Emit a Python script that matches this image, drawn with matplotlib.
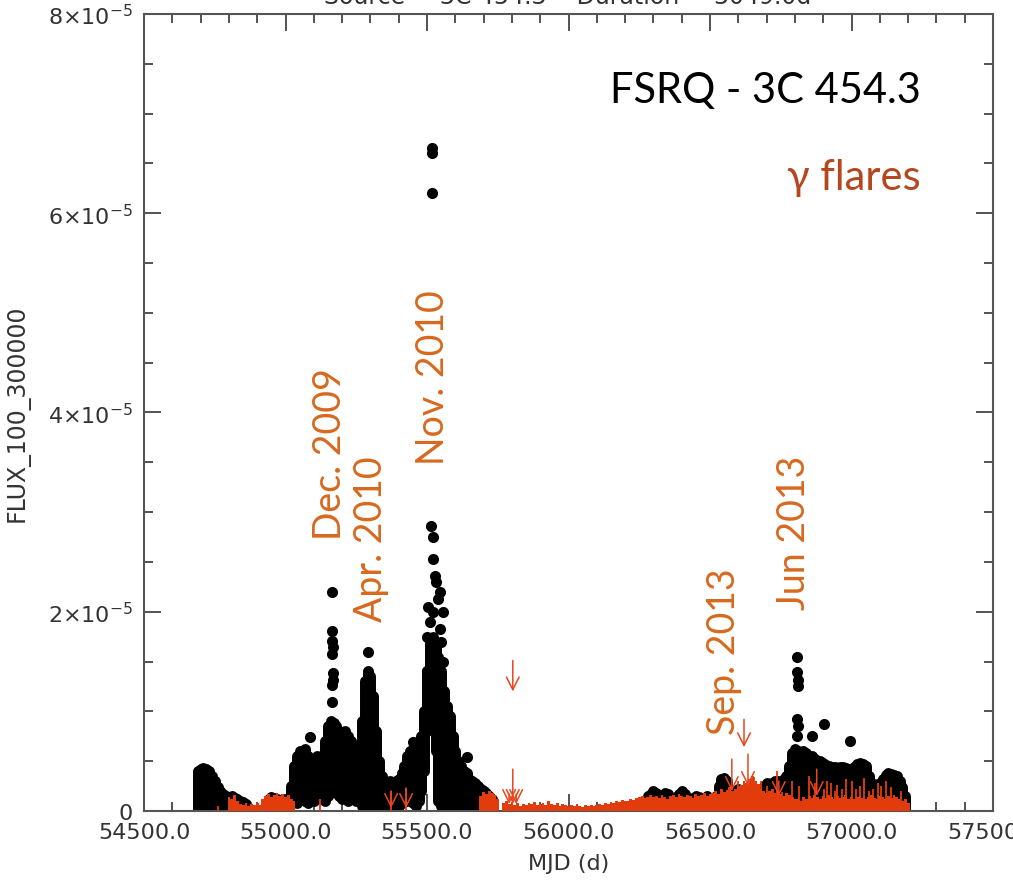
import numpy as np
import matplotlib
matplotlib.use('Agg')
import matplotlib.pyplot as plt
from matplotlib.ticker import MultipleLocator, FuncFormatter

# ---- data (flux in units of 1e-5 ph cm^-2 s^-1) ----
# black light curve envelope, 10 day bins
s1_mjd = np.arange(54690, 54870, 10)
s1_hi = [0.40, 0.42, 0.43, 0.42, 0.40, 0.35, 0.30, 0.24, 0.20, 0.17,
         0.15, 0.14, 0.15, 0.13, 0.12, 0.10, 0.09, 0.07]

s2_mjd = np.arange(54940, 55740, 10)
s2_hi = [0.12, 0.14, 0.13, 0.12, 0.11, 0.12, 0.11, 0.12,
         0.25, 0.45, 0.55, 0.60, 0.58, 0.62, 0.55, 0.50,
         0.52, 0.55, 0.50, 0.55, 0.70, 0.85, 0.90, 0.88,
         0.85, 0.80, 0.78, 0.80, 0.75, 0.70, 0.65, 0.55,
         0.55, 0.90, 1.30, 1.40, 1.35, 1.15, 0.80, 0.50,
         0.35, 0.30, 0.28, 0.30, 0.28, 0.30, 0.32, 0.38,
         0.45, 0.55, 0.60, 0.62, 0.65, 0.70, 0.75, 1.00,
         1.40, 1.70, 1.75, 1.70, 1.55, 1.40, 1.20, 1.05,
         0.95, 0.75, 0.60, 0.50, 0.45, 0.40, 0.38, 0.32,
         0.30, 0.28, 0.25, 0.22, 0.20, 0.18, 0.15, 0.12]
s2_lo = [0.05, 0.06, 0.05, 0.04, 0.05, 0.06, 0.05, 0.05,
         0.15, 0.10, 0.08, 0.12, 0.15, 0.10, 0.08, 0.12, 0.10, 0.15, 0.18, 0.12, 0.10, 0.15,
         0.20, 0.25, 0.18, 0.15, 0.12, 0.15, 0.10, 0.12, 0.15, 0.10, 0.12,
         0.05, 0.04, 0.05, 0.03, 0.05, 0.04, 0.05,
         0.05, 0.02, 0.00, 0.02, 0.05, 0.08, 0.05,
         0.08, 0.12, 0.10, 0.15, 0.08, 0.05, 0.10, 0.20, 0.40,
         0.80, 0.85, 0.85, 0.60,
         0.10, 0.05, 0.08, 0.04, 0.06, 0.03, 0.05, 0.08, 0.04, 0.05,
         0.03, 0.05, 0.02, 0.04, 0.03, 0.05, 0.02, 0.03, 0.04, 0.02]

s3_mjd = np.arange(56280, 57200, 10)
s3_hi = [0.15, 0.17, 0.20, 0.18, 0.14, 0.15, 0.18, 0.17, 0.13, 0.12,
         0.14, 0.17, 0.20, 0.17, 0.12, 0.10, 0.13, 0.15, 0.14, 0.12,
         0.13, 0.15, 0.13, 0.12, 0.15, 0.25, 0.32, 0.33, 0.30, 0.20,
         0.18, 0.20, 0.22, 0.20, 0.18, 0.20, 0.25, 0.22, 0.18, 0.20,
         0.22, 0.25, 0.28, 0.26, 0.28, 0.30, 0.30, 0.28, 0.32, 0.35,
         0.45, 0.58, 0.62, 0.60, 0.58, 0.60, 0.58, 0.55, 0.55, 0.52,
         0.50, 0.50, 0.48, 0.46, 0.45, 0.44, 0.44, 0.43, 0.44, 0.44,
         0.43, 0.42, 0.42, 0.44, 0.47, 0.48, 0.47, 0.45, 0.35, 0.27,
         0.27, 0.26, 0.28, 0.32, 0.36, 0.38, 0.37, 0.36, 0.35, 0.30,
         0.24, 0.15]

# single bright points standing out of the envelope
pk_mjd = [55088, 55165, 55163, 55165, 55166, 55164, 55167, 55166, 55165, 55163,
          55292, 55451, 55493, 55641,
          55517, 55517, 55518, 55515, 55521, 55521, 55527, 55533, 55539, 55521,
          55545, 55533, 55557, 55499, 55533, 55505, 55545, 55510, 55550, 55500, 55555,
          56807, 56808, 56810, 56810, 56807, 56810, 56807, 56859, 56901, 56995]
pk_flux = [0.74, 2.20, 1.81, 1.71, 1.65, 1.58, 1.38, 1.31, 1.26, 1.09,
           1.60, 0.69, 0.84, 0.54,
           6.65, 6.60, 6.20, 2.86, 2.75, 2.53, 2.36, 2.30, 2.13, 2.00,
           1.83, 1.63, 1.50, 1.40, 1.22, 2.05, 2.20, 1.90, 1.70, 1.75, 2.00,
           1.55, 1.39, 1.31, 1.25, 0.92, 0.85, 0.75, 0.75, 0.87, 0.70]

# red histogram, 10 day bins
r1_mjd = np.arange(54800, 55040, 10)
r1_val = [0.14, 0.12, 0.16, 0.10, 0.07, 0.06, 0.08, 0.05, 0.07, 0.06, 0.08, 0.06,
          0.12, 0.15, 0.17, 0.14, 0.16, 0.18, 0.15, 0.17, 0.14, 0.16, 0.12, 0.10]
r2_mjd = np.arange(55690, 55760, 10)
r2_val = [0.15, 0.19, 0.17, 0.20, 0.18, 0.16, 0.12]
r3_mjd = np.arange(55770, 57210, 10)
r3_val = [0.08, 0.10, 0.07, 0.09,
          0.06, 0.08, 0.05, 0.07, 0.06, 0.08, 0.07, 0.09, 0.06, 0.07,
          0.08, 0.06, 0.10, 0.07, 0.06, 0.08, 0.05, 0.07, 0.06, 0.05,
          0.06, 0.05, 0.07, 0.05, 0.04, 0.06, 0.05, 0.06, 0.05, 0.06,
          0.07, 0.06, 0.08, 0.07, 0.09, 0.08, 0.10, 0.09, 0.11, 0.10,
          0.10, 0.12, 0.11, 0.13, 0.14, 0.15, 0.13, 0.14, 0.16, 0.14,
          0.15, 0.13, 0.16, 0.14, 0.12, 0.15, 0.16, 0.14, 0.17, 0.15,
          0.14, 0.16, 0.15, 0.13, 0.17, 0.15, 0.16, 0.18, 0.15, 0.17,
          0.18, 0.20, 0.17, 0.22, 0.19, 0.21, 0.24, 0.20, 0.22, 0.25,
          0.26, 0.30, 0.28, 0.32, 0.35, 0.30, 0.27, 0.22, 0.20, 0.18,
          0.20, 0.22, 0.18, 0.20, 0.17, 0.15, 0.18, 0.16, 0.14, 0.12,
          0.12, 0.10, 0.14, 0.12, 0.15, 0.13, 0.16, 0.14, 0.12, 0.15,
          0.13, 0.16, 0.14, 0.12, 0.15, 0.13, 0.14, 0.16, 0.12, 0.14,
          0.12, 0.14, 0.15, 0.13, 0.12, 0.14, 0.16, 0.13, 0.12, 0.15,
          0.14, 0.12, 0.15, 0.13, 0.16, 0.14, 0.12, 0.10, 0.12, 0.08]
# thin red spikes
sp_mjd = [54761, 55120, 55373, 55426, 56600, 56655, 56680, 56700, 56736, 56753,
          56790, 56815, 56838, 56850, 56870, 56901, 56915, 56929, 56943, 56950,
          56965, 56982, 57000, 57017, 57030, 57045, 57060, 57075, 57095, 57105,
          57120, 57140, 57155, 57175]
sp_val = [0.05, 0.12, 0.20, 0.23, 0.30, 0.34, 0.30, 0.25, 0.40, 0.19,
          0.30, 0.25, 0.12, 0.35, 0.28, 0.22, 0.30, 0.28, 0.20, 0.26,
          0.22, 0.32, 0.30, 0.22, 0.25, 0.33, 0.20, 0.22, 0.28, 0.25,
          0.30, 0.24, 0.12, 0.20]

# upper limit arrows: mjd, top, tip
ul_mjd = [55803, 55803, 55790, 55815, 56620, 56577, 56634, 56877, 56743, 55373, 55426]
ul_top = [1.51, 0.42, 0.17, 0.17, 0.92, 0.52, 0.57, 0.42, 0.30, 0.20, 0.23]
ul_tip = [1.20, 0.07, 0.07, 0.07, 0.64, 0.20, 0.25, 0.15, 0.15, 0.03, 0.03]

# flare labels
fl_text = ['Dec. 2009', 'Apr. 2010', 'Nov. 2010', 'Sep. 2013', 'Jun 2013']
fl_mjd = [55158, 55303, 55521, 56549, 56796]
fl_y = [2.73, 1.91, 3.48, 0.77, 2.03]

RED = '#e23c0c'
ORANGE = '#d7691e'
S = 1e-5

fig = plt.figure(figsize=(10.13, 8.87), dpi=100)
ax = fig.add_axes([0.1422, 0.0846, 0.8381, 0.8986])

# black light curve: round-capped thick lines look like stacked dots
ax.vlines(s1_mjd, 0, np.array(s1_hi) * S, colors='k', linewidth=7.9, capstyle='round', zorder=2)
ax.vlines(s2_mjd, np.array(s2_lo) * S, np.array(s2_hi) * S, colors='k', linewidth=7.9,
          capstyle='round', zorder=2)
ax.vlines(s3_mjd, 0, np.array(s3_hi) * S, colors='k', linewidth=7.9, capstyle='round', zorder=2)
ax.plot(pk_mjd, np.array(pk_flux) * S, 'o', color='k', ms=8, mew=0, zorder=2)

# red histogram on top
for m, v in [(r1_mjd, r1_val), (r2_mjd, r2_val), (r3_mjd, r3_val)]:
    ax.bar(m, np.array(v) * S, width=10, color=RED, linewidth=0, zorder=3)
ax.vlines(sp_mjd, 0, np.array(sp_val) * S, colors=RED, linewidth=1.3, zorder=3)

for m, t, b in zip(ul_mjd, ul_top, ul_tip):
    ax.annotate('', xy=(m, b * S), xytext=(m, t * S),
                arrowprops=dict(arrowstyle='->,head_length=0.7,head_width=0.35',
                                color='#e8461e', lw=1.1, mutation_scale=13,
                                shrinkA=0, shrinkB=0), zorder=4)

for t, m, y in zip(fl_text, fl_mjd, fl_y):
    ax.text(m, y * S, t, rotation=90, ha='center', va='bottom', color=ORANGE,
            fontsize=27, family=['Lato', 'DejaVu Sans'])

ax.text(0.915, 0.89, 'FSRQ - 3C 454.3', transform=ax.transAxes, ha='right',
        va='baseline', fontsize=30, family=['Lato', 'DejaVu Sans'], color='k')
ax.text(0.915, 0.78, '\u03b3 flares', transform=ax.transAxes, ha='right',
        va='baseline', fontsize=30, family=['Lato', 'Noto Sans', 'DejaVu Sans'], color='#b4471f')

# axes
ax.set_xlim(54500, 57500)
ax.set_ylim(0, 8e-5)
ax.xaxis.set_major_locator(MultipleLocator(500))
ax.xaxis.set_minor_locator(MultipleLocator(100))
ax.yaxis.set_major_locator(MultipleLocator(2e-5))
ax.yaxis.set_minor_locator(MultipleLocator(0.5e-5))
ax.xaxis.set_major_formatter(FuncFormatter(lambda v, p: '%.1f' % v))


def yfmt(v, p):
    k = int(round(v / 1e-5))
    if k == 0:
        return '0'
    return r'$%d{\times}10^{-5}$' % k


ax.yaxis.set_major_formatter(FuncFormatter(yfmt))
ax.tick_params(which='both', direction='in', top=True, right=True, colors='#444444',
               labelcolor='#333333', width=1.3)
ax.tick_params(which='major', length=12, labelsize=16, pad=8)
ax.tick_params(which='minor', length=6.5)
for sp in ax.spines.values():
    sp.set_color('#555555')
    sp.set_linewidth(1.5)

ax.set_xlabel('MJD (d)', fontsize=16, color='#333333', labelpad=8)
ax.set_ylabel('FLUX_100_300000', fontsize=17, color='#333333', labelpad=13)

# title sits mostly above the image edge, only its lower rim shows
fig.text(0.56, 0.9955, 'Source = 3C 454.3    Duration = 3049.0d', ha='center',
         va='baseline', fontsize=17, color='#333333')

fig.savefig('out.png', dpi=100)
